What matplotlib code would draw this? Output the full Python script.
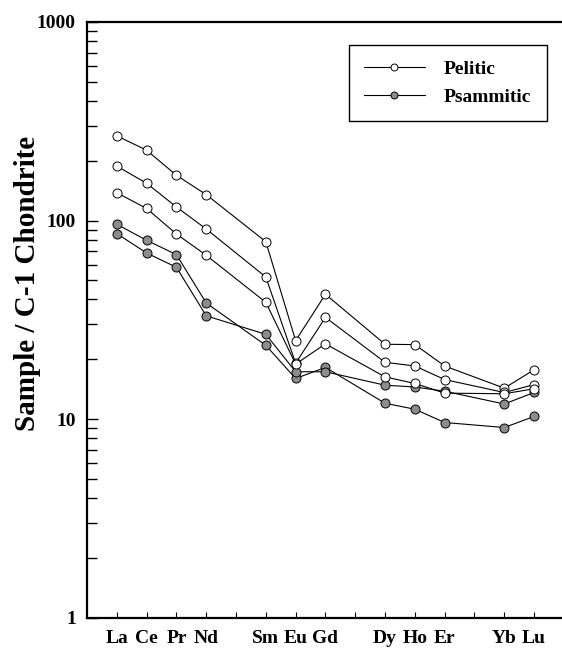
import matplotlib.pyplot as plt
from matplotlib.lines import Line2D
from matplotlib.ticker import LogLocator, NullFormatter, FixedLocator, FuncFormatter

plt.rcParams['font.family'] = ['Liberation Serif', 'DejaVu Serif']
plt.rcParams['font.weight'] = 'bold'

# REE positions (atomic number) and labels
elements = ['La', 'Ce', 'Pr', 'Nd', 'Sm', 'Eu', 'Gd', 'Dy', 'Ho', 'Er', 'Yb', 'Lu']
atomic_no = [57, 58, 59, 60, 62, 63, 64, 66, 67, 68, 70, 71]
tick_no = list(range(57, 72))

pelitic = [
    [267, 226, 169, 135, 78.2, 24.8, 42.5, 23.8, 23.7, 18.5, 14.3, 17.7],
    [188, 154, 117, 90.6, 51.9, 19.1, 32.5, 19.3, 18.5, 15.8, 13.6, 14.9],
    [138, 115, 85.5, 66.8, 38.7, 18.9, 23.9, 16.3, 15.1, 13.5, 13.4, 14.2],
]
psammitic = [
    [95.7, 79.5, 67.3, 38.4, 23.5, 16.0, 18.2, 12.0, 11.2, 9.6, 9.06, 10.3],
    [85.9, 68.6, 58.1, 33.1, 26.7, 17.3, 17.3, 14.8, 14.5, 13.8, 11.9, 13.6],
]

fig = plt.figure(figsize=(5.62, 6.48), dpi=100)
ax = fig.add_axes([87 / 562, 30.5 / 648, 476 / 562, 595.5 / 648])

for ys in psammitic:
    ax.plot(atomic_no, ys, '-o', color='black', lw=0.8, ms=6.5,
            mfc='#8c8c8c', mec='black', mew=0.7, zorder=2)
for ys in pelitic:
    ax.plot(atomic_no, ys, '-o', color='black', lw=0.8, ms=6.5,
            mfc='white', mec='black', mew=0.7, zorder=3)

ax.set_yscale('log')
ax.set_ylim(1, 1000)
ax.set_xlim(56, 71.97)

ax.xaxis.set_major_locator(FixedLocator(tick_no))
lab = {n: e for n, e in zip(atomic_no, elements)}
ax.set_xticklabels([lab.get(n, '') for n in tick_no])
ax.yaxis.set_major_locator(LogLocator(base=10, numticks=10))
ax.yaxis.set_minor_locator(LogLocator(base=10, subs=range(2, 10), numticks=10))
ax.yaxis.set_minor_formatter(NullFormatter())
ax.yaxis.set_major_formatter(FuncFormatter(lambda v, p: '%d' % v))

ax.tick_params(axis='x', direction='in', length=4, width=0.8, labelsize=14, pad=9)
ax.tick_params(axis='y', which='major', direction='in', length=8, width=1, labelsize=14, pad=8)
ax.tick_params(axis='y', which='minor', direction='in', length=7, width=1)
for lbl in ax.get_xticklabels() + ax.get_yticklabels():
    lbl.set_fontweight('bold')

for side in ['left', 'bottom', 'top']:
    ax.spines[side].set_linewidth(1.6)
ax.spines['right'].set_visible(False)

fig.text(28 / 562, 1 - 283 / 648, 'Sample / C-1 Chondrite', rotation=90,
         ha='center', va='center', fontsize=21, fontweight='bold')

handles = [
    Line2D([], [], color='black', lw=0.8, marker='o', ms=5, mfc='white', mec='black', mew=0.7),
    Line2D([], [], color='black', lw=0.8, marker='o', ms=5, mfc='#8c8c8c', mec='black', mew=0.7),
]
leg = ax.legend(handles, ['Pelitic', 'Psammitic'], loc='upper right',
                bbox_to_anchor=((547 - 87) / 476, 1 - 23 / 595.5),
                fancybox=False, edgecolor='black', framealpha=1,
                prop={'weight': 'bold', 'size': 14}, handlelength=3.1,
                borderpad=0.8, labelspacing=0.5, handletextpad=1.0, borderaxespad=0)
leg.get_frame().set_linewidth(1.0)

fig.savefig('out.png', dpi=100)
